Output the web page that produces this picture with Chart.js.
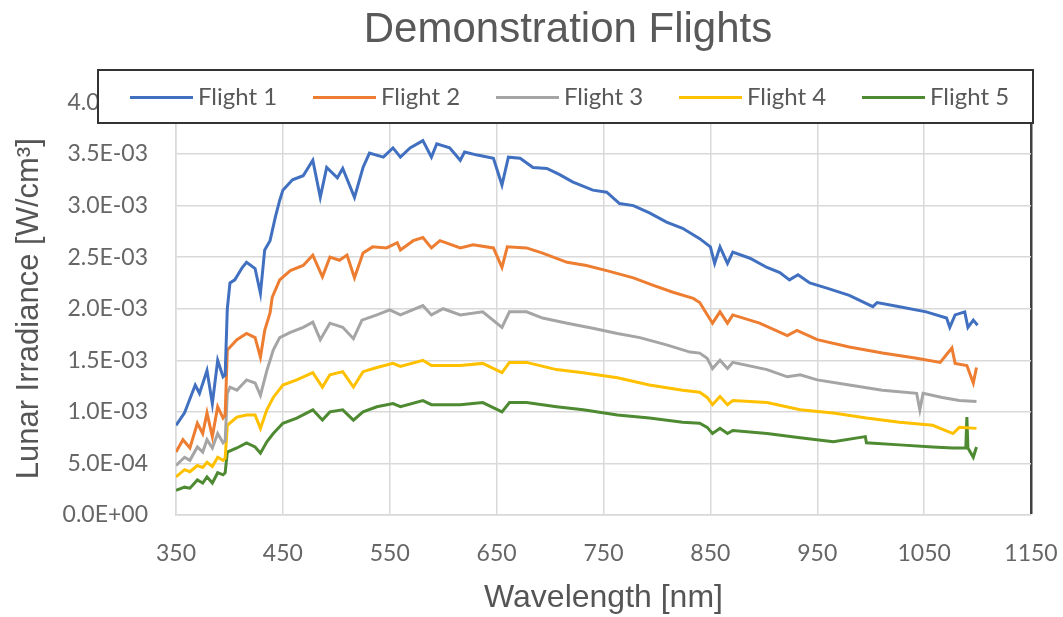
<!DOCTYPE html>
<html><head><meta charset="utf-8">
<script src="https://cdn.jsdelivr.net/npm/chart.js@4.4.0/dist/chart.umd.min.js"></script>
<style>html,body{margin:0;padding:0;background:#fff;} #wrap{width:1063px;height:617px;position:relative;}</style>
</head><body><div id="wrap"><canvas id="c" width="1063" height="617"></canvas></div>
<script>
// Values are in units of 1e-3 W/cm^3 (converted when datasets are built)
const chartTitle = 'Demonstration Flights';
const seriesLabels = ['Flight 1', 'Flight 2', 'Flight 3', 'Flight 4', 'Flight 5'];
const seriesColors = ['#4170C0', '#ED7D31', '#A5A5A5', '#FFC000', '#4E8A32'];

const wl1 = [350,358,368,372,379,384,389,394,396,398,400.5,405,412,416,424,429,433,438,443,447,450,459,469,478,485,491,501,506,517,525,531,544,553,560,569,581,589,594,606,616,620,632,647,655,661,672,684,697,709,721,740,753,765,778,793,809,824,840,850,854,859,866,871,887,903,915,924,932,943,959,980,1002,1006,1027,1052,1071,1074,1079,1088,1091,1096,1100];
const irr1 = [0.87,0.99,1.26,1.18,1.40,1.08,1.50,1.34,1.36,2.00,2.25,2.28,2.40,2.45,2.39,2.15,2.57,2.66,2.89,3.05,3.15,3.25,3.29,3.44,3.08,3.37,3.27,3.36,3.08,3.37,3.51,3.47,3.56,3.47,3.56,3.63,3.47,3.60,3.56,3.44,3.52,3.49,3.46,3.20,3.47,3.46,3.37,3.36,3.30,3.23,3.15,3.13,3.02,3.00,2.93,2.84,2.78,2.68,2.60,2.44,2.60,2.44,2.55,2.49,2.40,2.35,2.28,2.33,2.25,2.20,2.13,2.02,2.06,2.02,1.97,1.91,1.82,1.94,1.97,1.82,1.89,1.84];

const wl2 = [350,356.5,363,370,375,379,384,389,394,396,398,407,416,424,429,433,438,440,447,457,469,478,487,494,503,510,517,525,534,547,557,560,572,581,589,597,616,628,647,655,660,678,693,716,734,753,778,796,815,834,840,852,859,866,871,896,922,931,950,980,1011,1043,1065,1076,1079,1090,1096,1099];
const irr2 = [0.61,0.73,0.65,0.89,0.79,0.99,0.76,1.05,0.94,0.97,1.60,1.70,1.76,1.72,1.53,1.79,1.96,2.11,2.28,2.37,2.42,2.52,2.31,2.50,2.47,2.52,2.30,2.54,2.60,2.59,2.64,2.57,2.66,2.69,2.59,2.66,2.59,2.62,2.59,2.40,2.60,2.59,2.54,2.45,2.42,2.37,2.30,2.23,2.16,2.10,2.06,1.86,1.97,1.86,1.94,1.86,1.74,1.79,1.70,1.63,1.57,1.52,1.48,1.62,1.47,1.45,1.28,1.43];

const wl3 = [350,358,363,370,375,379,384,389,394,396,398,400.5,407,416,424,429,435,441,447,457,469,478,485,494,506,516,524,538,550,560,581,589,600,616,637,655,662,678,693,716,740,763,784,809,831,840,847,852,859,866,871,903,922,934,950,980,1011,1043,1046,1049,1067,1083,1099];
const irr3 = [0.48,0.56,0.53,0.66,0.61,0.73,0.65,0.79,0.70,0.72,1.18,1.24,1.21,1.31,1.28,1.16,1.40,1.60,1.72,1.77,1.82,1.87,1.70,1.86,1.82,1.71,1.89,1.94,1.99,1.94,2.03,1.94,2.00,1.94,1.97,1.82,1.97,1.97,1.91,1.86,1.81,1.76,1.72,1.65,1.58,1.57,1.52,1.42,1.50,1.42,1.48,1.41,1.34,1.36,1.31,1.26,1.21,1.18,1.02,1.18,1.14,1.11,1.10];

const wl4 = [350,358,363,370,375,379,384,389,394,396,398,407,416,424,429,435,441,450,463,478,487,494,506,516,525,538,553,560,581,589,616,637,655,662,678,706,731,763,793,824,840,847,852,859,866,871,903,934,965,996,1027,1058,1077,1083,1099];
const irr4 = [0.37,0.44,0.42,0.48,0.46,0.51,0.47,0.56,0.53,0.55,0.87,0.95,0.97,0.97,0.84,1.02,1.14,1.26,1.31,1.38,1.24,1.36,1.39,1.24,1.39,1.43,1.47,1.44,1.50,1.45,1.45,1.47,1.38,1.48,1.48,1.41,1.38,1.33,1.26,1.21,1.19,1.14,1.07,1.15,1.07,1.11,1.09,1.02,0.99,0.94,0.90,0.87,0.79,0.85,0.84];

const wl5 = [350,358,363,370,375,379,384,389,394,396,398,407,416,424,429,435,441,450,463,478,487,494,506,516,525,538,553,560,581,589,616,637,655,662,678,706,731,763,793,824,840,847,852,859,866,871,903,934,965,995,996,1027,1058,1077,1089,1090,1091,1096,1099];
const irr5 = [0.24,0.27,0.26,0.34,0.31,0.37,0.31,0.41,0.39,0.41,0.61,0.65,0.70,0.66,0.60,0.71,0.79,0.89,0.94,1.02,0.92,1.00,1.02,0.92,1.00,1.05,1.08,1.05,1.11,1.07,1.07,1.09,1.00,1.09,1.09,1.05,1.02,0.97,0.94,0.90,0.89,0.85,0.79,0.84,0.79,0.82,0.79,0.75,0.71,0.76,0.70,0.68,0.66,0.65,0.65,0.95,0.65,0.56,0.66];

const xTickValues = [350,450,550,650,750,850,950,1050,1150];
const yTickValues = [0,0.0005,0.001,0.0015,0.002,0.0025,0.003,0.0035,0.004];
const yTickLabels = ['0.0E+00','5.0E-04','1.0E-03','1.5E-03','2.0E-03','2.5E-03','3.0E-03','3.5E-03','4.0E-03'];

const wls = [wl1, wl2, wl3, wl4, wl5];
const irrs = [irr1, irr2, irr3, irr4, irr5];

const datasets = seriesLabels.map((label, i) => ({
  label,
  data: wls[i].map((w, j) => ({x: w, y: irrs[i][j] * 1e-3})),
  borderColor: seriesColors[i],
  backgroundColor: seriesColors[i],
  borderWidth: 3,
  pointRadius: 0,
  tension: 0,
  fill: false
}));

const titleAndLegend = {
  id: 'titleAndLegend',
  afterDraw(chart) {
    const ctx = chart.ctx;
    ctx.save();
    // title
    ctx.fillStyle = '#595959';
    ctx.font = '42px "Liberation Sans"';
    ctx.textAlign = 'center';
    ctx.textBaseline = 'middle';
    ctx.fillText(chartTitle, 568, 30);
    // legend box
    const bx = 98, by = 70, bw = 935, bh = 53;
    ctx.fillStyle = '#ffffff';
    ctx.fillRect(bx, by, bw, bh);
    ctx.strokeStyle = '#333333';
    ctx.lineWidth = 2;
    ctx.strokeRect(bx, by, bw, bh);
    const ly = by + bh / 2 + 1;
    chart.data.datasets.forEach((ds, i) => {
      const x0 = 130 + i * 183;
      ctx.strokeStyle = ds.borderColor;
      ctx.lineWidth = 3;
      ctx.beginPath();
      ctx.moveTo(x0, ly);
      ctx.lineTo(x0 + 63, ly);
      ctx.stroke();
      ctx.fillStyle = '#595959';
      ctx.font = '24px Lato';
      ctx.textBaseline = 'middle';
      ctx.textAlign = 'left';
      ctx.fillText(ds.label, x0 + 68, ly);
    });
    ctx.restore();
  }
};

new Chart(document.getElementById('c'), {
  type: 'line',
  data: { datasets },
  plugins: [titleAndLegend],
  options: {
    responsive: false,
    animation: false,
    layout: { padding: { left: 0, right: 32, top: 102.5, bottom: 0 } },
    plugins: {
      legend: { display: false },
      tooltip: { enabled: false },
      title: { display: false }
    },
    scales: {
      x: {
        type: 'linear',
        min: 350, max: 1150,
        afterBuildTicks: (s) => { s.ticks = xTickValues.map(v => ({value: v})); },
        afterFit: (s) => { s.height = 102; s.paddingRight = 0; s.paddingLeft = 0; },
        grid: {
          drawTicks: false,
          color: (c) => (c.tick && c.tick.value === 1150) ? '#404040' : '#d9d9d9',
          lineWidth: (c) => (c.tick && c.tick.value === 1150) ? 2.5 : 1.5
        },
        border: { color: '#d9d9d9', width: 1.5 },
        ticks: {
          padding: 25,
          color: '#666666',
          font: { family: 'Lato', size: 23 },
          maxRotation: 0,
          callback: (v) => String(v)
        },
        title: {
          display: true,
          text: 'Wavelength [nm]',
          color: '#555555',
          font: { family: 'Liberation Sans', size: 32 },
          padding: { top: 0, bottom: 0 }
        }
      },
      y: {
        type: 'linear',
        min: 0, max: 0.004,
        afterBuildTicks: (s) => { s.ticks = yTickValues.map(v => ({value: v})); },
        afterFit: (s) => { s.width = 176; s.paddingTop = 0; s.paddingBottom = 0; },
        grid: { drawTicks: false, color: '#d9d9d9', lineWidth: 1.5 },
        border: { color: '#d9d9d9', width: 1.5 },
        ticks: {
          padding: 28,
          color: '#666666',
          font: { family: 'Lato', size: 23 },
          callback: (v, i) => yTickLabels[i]
        },
        title: {
          display: true,
          text: 'Lunar Irradiance [W/cm³]',
          color: '#555555',
          font: { family: 'Liberation Sans', size: 31 },
          padding: { top: 11, bottom: 0 }
        }
      }
    }
  }
});
</script>
</body></html>
